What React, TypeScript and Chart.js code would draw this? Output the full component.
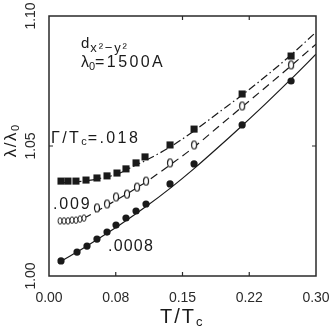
import React, { useEffect, useRef } from 'react';
import { Chart, registerables } from 'chart.js';

Chart.register(...registerables);

// ---- data ----
const xTickValues = [0, 0.075, 0.15, 0.225, 0.3];
const xTickLabels = ['0.00', '0.08', '0.15', '0.22', '0.30'];
const yTickValues = [1.0, 1.05, 1.1];
const yTickLabels = ['1.00', '1.05', '1.10'];

// Γ/Tc = .018 (filled squares)
const sqT = [0.0135, 0.0213, 0.0303, 0.0416, 0.0539, 0.0652, 0.0764, 0.0865, 0.0978, 0.1079, 0.136, 0.163, 0.217, 0.272];
const sqL = [1.0365, 1.0365, 1.0365, 1.0369, 1.0377, 1.0385, 1.0396, 1.0412, 1.0435, 1.0458, 1.0504, 1.0565, 1.07, 1.0846];

// Γ/Tc = .009 (open diamonds)
const dmT = [0.0124, 0.0169, 0.0213, 0.0258, 0.0303, 0.0348, 0.0393, 0.0539, 0.0652, 0.0753, 0.0876, 0.0989, 0.109, 0.136, 0.163, 0.217, 0.272];
const dmL = [1.0212, 1.0212, 1.0212, 1.0215, 1.0215, 1.0219, 1.0223, 1.0262, 1.0277, 1.0304, 1.0315, 1.0342, 1.0365, 1.0435, 1.0504, 1.0654, 1.0812];

// Γ/Tc = .0008 (filled circles)
const ciT = [0.0135, 0.0315, 0.0427, 0.0539, 0.0652, 0.0753, 0.0865, 0.0978, 0.109, 0.136, 0.163, 0.217, 0.272];
const ciL = [1.0058, 1.0092, 1.0115, 1.0142, 1.0169, 1.0196, 1.0223, 1.025, 1.0277, 1.0354, 1.0431, 1.0581, 1.075];

// theory curves
const topCurveT = [0.0101, 0.0303, 0.0539, 0.0764, 0.0978, 0.109, 0.136, 0.163, 0.1899, 0.2169, 0.2438, 0.2719, 0.3];
const topCurveL = [1.0358, 1.0362, 1.0373, 1.0392, 1.0427, 1.0445, 1.0496, 1.0558, 1.0627, 1.0696, 1.0769, 1.085, 1.0938];
const midCurveT = [0.0101, 0.0236, 0.0393, 0.0539, 0.0685, 0.0876, 0.109, 0.136, 0.163, 0.1899, 0.2169, 0.2438, 0.2719, 0.3];
const midCurveL = [1.0208, 1.0212, 1.0223, 1.025, 1.0278, 1.0316, 1.0362, 1.0427, 1.0496, 1.0573, 1.065, 1.0727, 1.0808, 1.0892];
const lowCurveT = [0.0101, 0.0348, 0.0573, 0.0798, 0.109, 0.136, 0.163, 0.1899, 0.2169, 0.2438, 0.2719, 0.3];
const lowCurveL = [1.005, 1.0099, 1.0147, 1.0197, 1.0267, 1.0337, 1.0413, 1.0494, 1.0578, 1.0664, 1.0757, 1.0853];

const gammaLabels = ['.018', '.009', '.0008'];

const FONT = '"Liberation Sans", Arial, sans-serif';
const INK = '#1a1a1a';

const pts = (xs: number[], ys: number[]) => xs.map((x, i) => ({ x, y: ys[i] }));

type Part = { t: string; size: number; dy?: number; sp?: number };

function drawParts(ctx: CanvasRenderingContext2D, x: number, y: number, parts: Part[]) {
  let cx = x;
  for (const p of parts) {
    ctx.font = `${p.size}px ${FONT}`;
    (ctx as any).letterSpacing = `${p.sp ?? 0}px`;
    ctx.fillText(p.t, cx, y + (p.dy ?? 0));
    cx += ctx.measureText(p.t).width;
  }
  (ctx as any).letterSpacing = '0px';
}

function partsWidth(ctx: CanvasRenderingContext2D, parts: Part[]) {
  let w = 0;
  for (const p of parts) {
    ctx.font = `${p.size}px ${FONT}`;
    (ctx as any).letterSpacing = `${p.sp ?? 0}px`;
    w += ctx.measureText(p.t).width;
  }
  (ctx as any).letterSpacing = '0px';
  return w;
}

function makeOval(w: number, h: number, lw: number) {
  const c = document.createElement('canvas');
  c.width = Math.ceil(w + lw * 2 + 2);
  c.height = Math.ceil(h + lw * 2 + 2);
  const g = c.getContext('2d')!;
  g.strokeStyle = INK;
  g.fillStyle = '#fff';
  g.lineWidth = lw;
  g.beginPath();
  g.ellipse(c.width / 2, c.height / 2, w / 2, h / 2, 0, 0, Math.PI * 2);
  g.fill();
  g.stroke();
  return c;
}

const decorPlugin = {
  id: 'decor',
  afterDraw(chart: any) {
    const ctx: CanvasRenderingContext2D = chart.ctx;
    const { left, right, top, bottom } = chart.chartArea;
    const xs = chart.scales.x;
    const ys = chart.scales.y;
    ctx.save();
    ctx.strokeStyle = '#2a2a2a';
    ctx.fillStyle = INK;
    ctx.lineWidth = 1.5;
    ctx.strokeRect(left, top, right - left, bottom - top);

    // inner tick marks
    ctx.lineWidth = 1.2;
    ctx.beginPath();
    for (let i = 1; i < xTickValues.length - 1; i++) {
      const px = xs.getPixelForValue(xTickValues[i]);
      ctx.moveTo(px, bottom);
      ctx.lineTo(px, bottom - 4);
      if (i > 1) {
        ctx.moveTo(px, top);
        ctx.lineTo(px, top + 4);
      }
    }
    for (let i = 1; i < yTickValues.length - 1; i++) {
      const py = ys.getPixelForValue(yTickValues[i]);
      ctx.moveTo(left, py);
      ctx.lineTo(left + 4, py);
      ctx.moveTo(right, py);
      ctx.lineTo(right - 4, py);
    }
    ctx.stroke();

    // x tick labels
    ctx.fillStyle = '#2a2a2a';
    ctx.font = `14px ${FONT}`;
    ctx.textAlign = 'center';
    ctx.textBaseline = 'alphabetic';
    xTickValues.forEach((v, i) => {
      ctx.fillText(xTickLabels[i], xs.getPixelForValue(v), bottom + 26);
    });

    // y tick labels (rotated)
    yTickValues.forEach((v, i) => {
      const py = ys.getPixelForValue(v);
      ctx.save();
      ctx.translate(left - 14, py);
      ctx.rotate(-Math.PI / 2);
      ctx.textAlign = 'center';
      ctx.fillText(yTickLabels[i], 0, 0);
      ctx.restore();
    });

    ctx.fillStyle = INK;
    ctx.textAlign = 'left';

    // x title T/Tc
    drawParts(ctx, 160, bottom + 47, [
      { t: 'T/T', size: 20, sp: 2 },
      { t: 'c', size: 13, dy: 3 },
    ]);

    // y title λ/λ0 (rotated)
    {
      const parts: Part[] = [
        { t: 'λ/λ', size: 17, sp: 1.5 },
        { t: '0', size: 11, dy: 3 },
      ];
      const w = partsWidth(ctx, parts);
      ctx.save();
      ctx.translate(16, 141);
      ctx.rotate(-Math.PI / 2);
      drawParts(ctx, -w / 2, 0, parts);
      ctx.restore();
    }

    // annotation d_{x²−y²}
    drawParts(ctx, 81, 48, [
      { t: 'd', size: 15, sp: 1 },
      { t: 'x²−y²', size: 13, dy: 4, sp: 1.8 },
    ]);
    // λ0=1500A
    drawParts(ctx, 81, 67, [
      { t: 'λ', size: 16 },
      { t: '0', size: 11, dy: 3 },
      { t: '=1500A', size: 16, sp: 2.4 },
    ]);

    // Γ/Tc=.018
    drawParts(ctx, 51, 143, [
      { t: 'Γ/T', size: 16, sp: 2.4 },
      { t: 'c', size: 11, dy: 2, sp: 1 },
      { t: '=' + gammaLabels[0], size: 16, sp: 2.4 },
    ]);
    drawParts(ctx, 53, 209, [{ t: gammaLabels[1], size: 16, sp: 1.8 }]);
    drawParts(ctx, 108, 251, [{ t: gammaLabels[2], size: 16, sp: 1.2 }]);

    ctx.restore();
  },
};

export default function App() {
  const ref = useRef<HTMLCanvasElement | null>(null);

  useEffect(() => {
    const canvas = ref.current!;
    const smallOval = makeOval(4, 6.5, 1);
    const bigOval = makeOval(5, 8, 1.2);

    const lineDs = (data: any[], dash: number[]) => ({
      type: 'line' as const,
      data,
      showLine: true,
      borderColor: INK,
      borderWidth: 1.2,
      borderDash: dash,
      pointRadius: 0,
      fill: false,
      cubicInterpolationMode: 'monotone' as const,
      order: 2,
    });

    const chart = new Chart(canvas, {
      type: 'scatter',
      data: {
        datasets: [
          lineDs(pts(topCurveT, topCurveL), [8, 3, 1.5, 3]),
          lineDs(pts(midCurveT, midCurveL), [8, 5]),
          lineDs(pts(lowCurveT, lowCurveL), []),
          {
            data: pts(sqT, sqL),
            pointStyle: 'rect',
            pointRadius: 5,
            backgroundColor: INK,
            borderColor: INK,
            borderWidth: 0,
            order: 1,
          },
          {
            data: pts(dmT, dmL),
            pointStyle: (c: any) => (c.dataIndex < 7 ? smallOval : bigOval),
            pointRadius: 4,
            backgroundColor: 'transparent',
            borderColor: INK,
            order: 1,
          },
          {
            data: pts(ciT, ciL),
            pointStyle: 'circle',
            pointRadius: 3.6,
            backgroundColor: INK,
            borderColor: INK,
            borderWidth: 0,
            order: 1,
          },
        ] as any,
      },
      options: {
        animation: false,
        responsive: false,
        devicePixelRatio: 1,
        layout: { padding: { left: 49, right: 16, top: 16, bottom: 52 } },
        plugins: { legend: { display: false }, tooltip: { enabled: false } },
        events: [],
        scales: {
          x: { type: 'linear', min: 0, max: 0.3, display: false },
          y: { type: 'linear', min: 1.0, max: 1.1, display: false },
        },
      },
      plugins: [decorPlugin],
    });
    return () => chart.destroy();
  }, []);

  return (
    <canvas
      ref={ref}
      width={332}
      height={328}
      style={{ position: 'fixed', left: 0, top: 0, width: 332, height: 328, background: '#fff' }}
    />
  );
}
